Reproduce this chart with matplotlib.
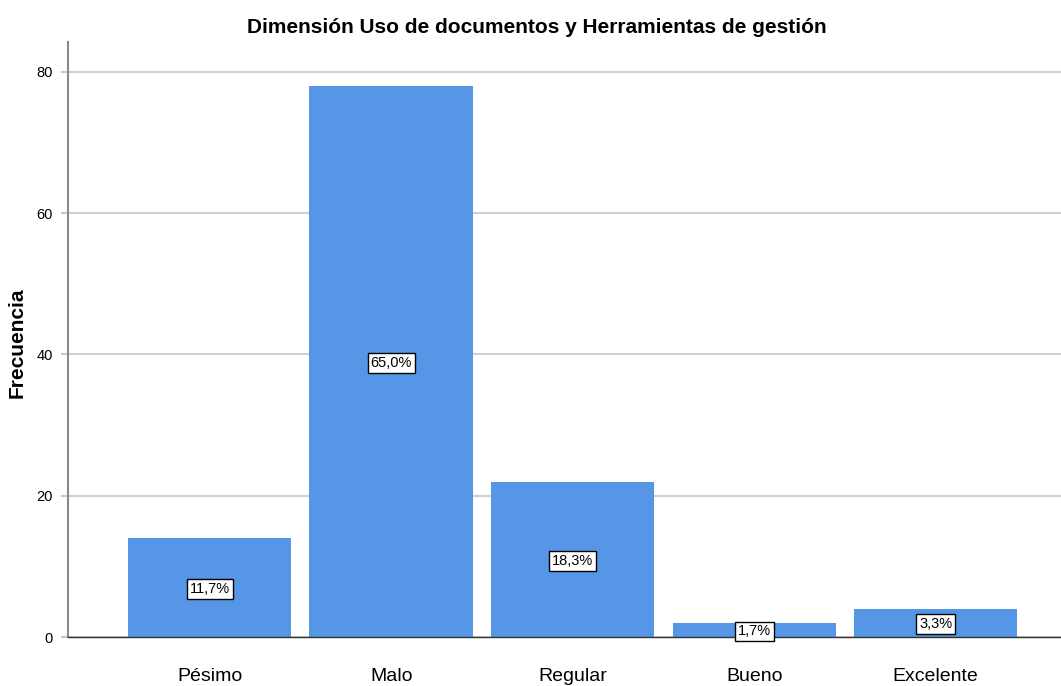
import matplotlib.pyplot as plt
import numpy as np

categories = ['Pésimo', 'Malo', 'Regular', 'Bueno', 'Excelente']
counts = [14, 78, 22, 2, 4]
percent_labels = ['11,7%', '65,0%', '18,3%', '1,7%', '3,3%']
y_ticks = [0, 20, 40, 60, 80]

plt.rcParams['font.family'] = ['Liberation Sans', 'DejaVu Sans']

fig = plt.figure(figsize=(10.61, 6.86), dpi=100)
ax = fig.add_axes([0.0641, 0.0714, 0.9359, 0.8674])

x = np.arange(len(categories))
ax.bar(x, counts, width=0.9, color='#5596e6', zorder=2)

for xi, c, lab in zip(x, counts, percent_labels):
    ax.text(xi, c / 2, lab, ha='center', va='center_baseline', fontsize=10.5, zorder=4,
            bbox=dict(boxstyle='square,pad=0.2', facecolor='white',
                      edgecolor='black', linewidth=1.0))

ax.set_xlim(-0.78, 4.69)
ax.set_ylim(0, 84.2)
ax.set_xticks(x)
ax.set_xticklabels(categories, fontsize=14)
ax.set_yticks(y_ticks)
ax.set_yticklabels([str(v) for v in y_ticks], fontsize=10.5)
ax.tick_params(axis='x', length=0, pad=22)
ax.tick_params(axis='y', length=5, color='#c8c8c8', width=1.5, pad=6)

ax.yaxis.grid(True, color='#d0d0d0', linewidth=1.5, zorder=0)
ax.set_axisbelow(True)

for side in ['top', 'right']:
    ax.spines[side].set_visible(False)
ax.spines['left'].set_color('#8a8a8a')
ax.spines['left'].set_linewidth(1.5)
ax.spines['bottom'].set_color('#333333')
ax.spines['bottom'].set_linewidth(1.0)
ax.spines['bottom'].set_zorder(3)

fig.text(0.016, 0.5, 'Frecuencia', rotation=90, ha='center', va='center',
         fontsize=15, fontweight='bold')
fig.text(0.506, 0.96, 'Dimensión Uso de documentos y Herramientas de gestión',
         ha='center', va='center', fontsize=15, fontweight='bold')

fig.savefig('out.png', dpi=100)
